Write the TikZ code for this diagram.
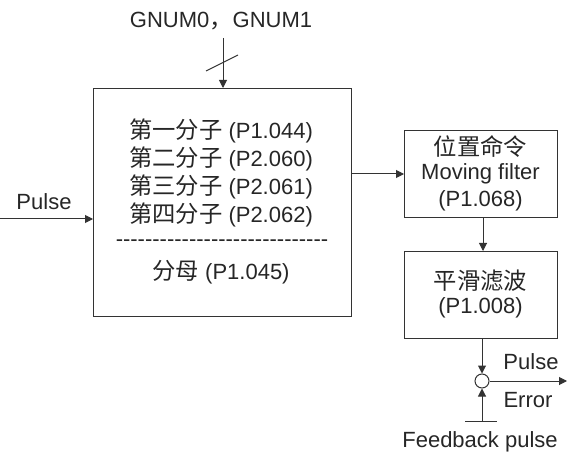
\documentclass[tikz,border=0pt]{standalone}
\usepackage{fontspec}
\setmainfont{Liberation Sans}
\newfontfamily\cjk{Noto Sans CJK SC}[Scale=1.06]
\newcommand\hy{-\kern0pt}
\usetikzlibrary{arrows.meta}
\begin{document}
\begin{tikzpicture}[x=1pt,y=-1pt,
  every node/.style={inner sep=0pt, font=\fontsize{22}{27}\selectfont, text=black!85},
  blk/.style={draw=black!80, line width=1pt},
  conn/.style={draw=black!80, line width=1pt},
  arr/.style={conn, -{Triangle[length=8pt,width=8pt]}},
  ]
\useasboundingbox (0,0) rectangle (567,454);
% main box
\node[blk, minimum width=258pt, minimum height=228pt, anchor=north west] (main) at (93,88) {};
\node (l1) at (221,131) {{\cjk 第一分子} (P1.044)};
\node (l2) at (221,159) {{\cjk 第二分子} (P2.060)};
\node (l3) at (221,187) {{\cjk 第三分子} (P2.061)};
\node (l4) at (221,215) {{\cjk 第四分子} (P2.062)};
\node (dash) at (222,243) {\hy\hy\hy\hy\hy\hy\hy\hy\hy\hy\hy\hy\hy\hy\hy\hy\hy\hy\hy\hy\hy\hy\hy\hy\hy\hy\hy\hy\hy};
\node (l5) at (221,272) {{\cjk 分母} (P1.045)};
% right boxes
\node[blk, minimum width=153pt, minimum height=87pt, anchor=north west] (b1) at (404,130) {};
\node (b1a) at (480.5,147) {\cjk 位置命令};
\node (b1b) at (480.5,174) {Moving filter};
\node (b1c) at (480.5,201) {(P1.068)};
\node[blk, minimum width=153pt, minimum height=87pt, anchor=north west] (b2) at (404,251) {};
\node (b2a) at (480.5,281) {\cjk 平滑滤波};
\node (b2b) at (480.5,308) {(P1.008)};
% summing junction
\node[draw=black!80, line width=1pt, circle, minimum size=14pt, fill=white] (sum) at (482,381) {};
% labels
\node (gnum) at (221,21) {GNUM0{\cjk ，}GNUM1};
\coordinate (gtop) at (223,38);
\node (pin) at (44,202) {Pulse};
\coordinate (pstart) at (0,219);
\node (pout) at (531,362) {Pulse};
\node (err) at (528,400) {Error};
\node (fb) at (480,442) {Feedback pulse};
\coordinate (fbmid) at (482,421);
\coordinate (fbl) at (465,421);
\coordinate (fbr) at (497,421);
\coordinate (outend) at (567,381);
\coordinate (s1) at (206,71);
\coordinate (s2) at (238,55);
% connectors
\draw[arr] (gtop) -- (gtop |- main.north);
\draw[conn] (s1) -- (s2);
\draw[arr] (pstart) -- (pstart -| main.west);
\draw[arr] (main.east |- 0,174) -- (b1.west |- 0,174);
\draw[arr] (b1.south -| 483,0) -- (b2.north -| 483,0);
\draw[arr] (b2.south -| sum.north) -- (sum.north);
\draw[arr] (sum.east) -- (outend);
\draw[conn] (fbl) -- (fbr);
\draw[arr] (fbmid) -- (sum.south);
\end{tikzpicture}
\end{document}
